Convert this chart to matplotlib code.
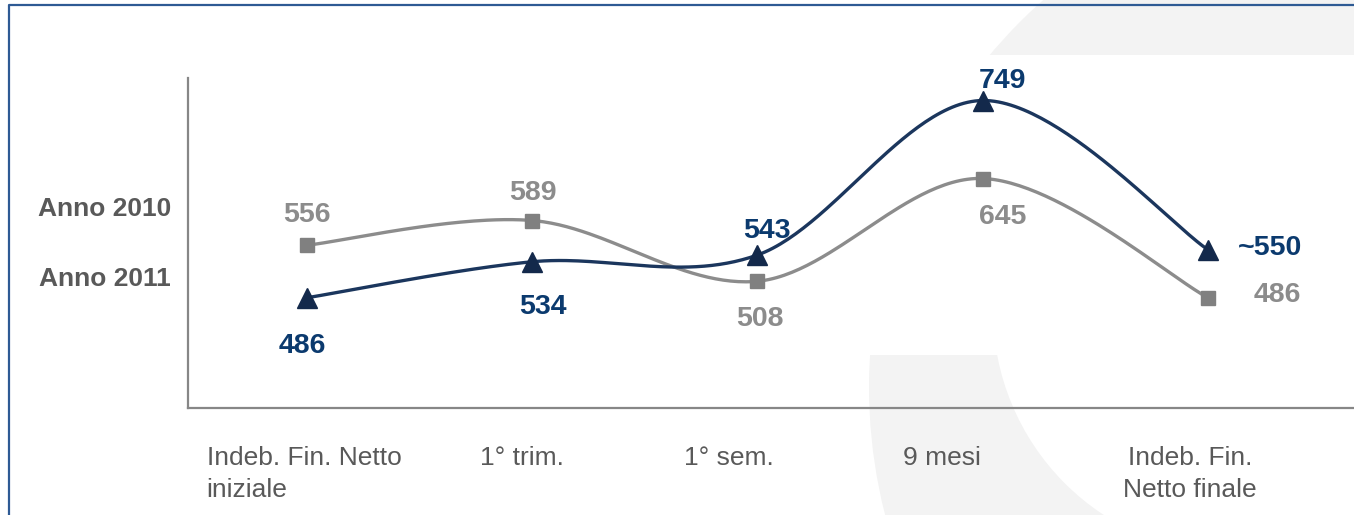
import numpy as np
import matplotlib
matplotlib.use('Agg')
import matplotlib.pyplot as plt
from matplotlib.patches import Circle, Rectangle
from matplotlib.lines import Line2D
from matplotlib.transforms import IdentityTransform, blended_transform_factory

plt.rcParams['font.family'] = ['Liberation Sans', 'DejaVu Sans']

# Chart data
categories = ['Indeb. Fin. Netto\niniziale', '1° trim.', '1° sem.', '9 mesi', 'Indeb. Fin.\nNetto finale']
anno_2010 = [556, 589, 508, 645, 486]
anno_2011 = [486, 534, 543, 749, 550]
labels_2010 = ['556', '589', '508', '645', '486']
labels_2011 = ['486', '534', '543', '749', '~550']
series_names = ['Anno 2010', 'Anno 2011']

# Colours
navy_line = '#1b365d'
navy_mark = '#13294b'
navy_text = '#0b3a6e'
gray_line = '#8c8c8c'
gray_mark = '#808080'
gray_text = '#8c8c8c'
axis_col = '#878787'
cat_col = '#595959'


# Excel style smoothed line (cardinal spline through the points)
def smooth_curve(xs, ys, n=60):
    pts = np.column_stack([xs, ys]).astype(float)
    ext = np.vstack([pts[0], pts, pts[-1]])
    out = []
    for i in range(len(pts) - 1):
        p0, p1, p2, p3 = ext[i], ext[i + 1], ext[i + 2], ext[i + 3]
        c1 = p1 + (p2 - p0) / 6.0
        c2 = p2 - (p3 - p1) / 6.0
        t = np.linspace(0, 1, n)[:, None]
        seg = ((1 - t) ** 3) * p1 + 3 * ((1 - t) ** 2) * t * c1 + 3 * (1 - t) * t ** 2 * c2 + t ** 3 * p2
        out.append(seg if i == 0 else seg[1:])
    out = np.vstack(out)
    return out[:, 0], out[:, 1]


fig = plt.figure(figsize=(13.54, 5.15), dpi=100)

# background decoration: faint "C" shape + white plot area
outer = Circle((1386, 128), 517, facecolor='#f3f3f3', edgecolor='none',
               transform=IdentityTransform(), zorder=-4)
inner = Circle((1238, 205), 245, facecolor='white', edgecolor='none',
               transform=IdentityTransform(), zorder=-3)
fig.add_artist(outer)
fig.add_artist(inner)
white = Rectangle((188, 160), 1200, 300, facecolor='white', edgecolor='none',
                  transform=IdentityTransform(), zorder=-2)
fig.add_artist(white)

# frame on left and top
frame = Line2D([9, 9, 1360], [-5, 510, 510], color='#2e5a94', lw=1.6,
               transform=IdentityTransform(), zorder=5)
fig.add_artist(frame)

ax = fig.add_axes([188 / 1354, 107 / 515, 1166 / 1354, 330 / 515])
ax.patch.set_visible(False)
x = np.arange(len(categories))

sx, sy = smooth_curve(x, anno_2010)
ax.plot(sx, sy, color=gray_line, lw=2.4, solid_capstyle='round', zorder=3)
ax.plot(x, anno_2010, 's', color=gray_mark, markersize=10, zorder=4)

sx, sy = smooth_curve(x, anno_2011)
ax.plot(sx, sy, color=navy_line, lw=2.4, solid_capstyle='round', zorder=3)
ax.plot(x, anno_2011, '^', color=navy_mark, markersize=14, zorder=4)

ax.set_xlim(-0.528, 4.648)
ax.set_ylim(339, 779)

for s in ['top', 'right']:
    ax.spines[s].set_visible(False)
for s in ['left', 'bottom']:
    ax.spines[s].set_color(axis_col)
    ax.spines[s].set_linewidth(1.6)
ax.set_xticks([])
ax.set_yticks([])

# data labels (offsets in pixels)
off_2010 = [(0, 30), (1, 28), (2, -38), (20, -39), (69, 3)]
off_2011 = [(-5, -48), (11, -45), (9, 24), (20, 20), (62, 2)]
for i in range(len(x)):
    ax.annotate(labels_2010[i], (x[i], anno_2010[i]), xytext=off_2010[i],
                textcoords='offset pixels', ha='center', va='center',
                fontsize=20.5, fontweight='bold', color=gray_text)
    ax.annotate(labels_2011[i], (x[i], anno_2011[i]), xytext=off_2011[i],
                textcoords='offset pixels', ha='center', va='center',
                fontsize=20.5, fontweight='bold', color=navy_text)

# category labels under the axis
trans = blended_transform_factory(ax.transData, ax.transAxes)
cat_x = [-0.445, -0.045, -0.125, -0.18, -0.08]
cat_ha = ['left', 'center', 'center', 'center', 'center']
for i, c in enumerate(categories):
    ax.text(x[i] + cat_x[i], -0.115, c, transform=trans, ha=cat_ha[i], va='top',
            fontsize=19, color=cat_col, linespacing=1.4)

# series names on the left
fig.text(105 / 1354, 1 - 209 / 515, series_names[0], ha='center', va='center',
         fontsize=19, fontweight='bold', color=cat_col)
fig.text(105 / 1354, 1 - 279 / 515, series_names[1], ha='center', va='center',
         fontsize=19, fontweight='bold', color=cat_col)

fig.savefig('out.png', dpi=100)
